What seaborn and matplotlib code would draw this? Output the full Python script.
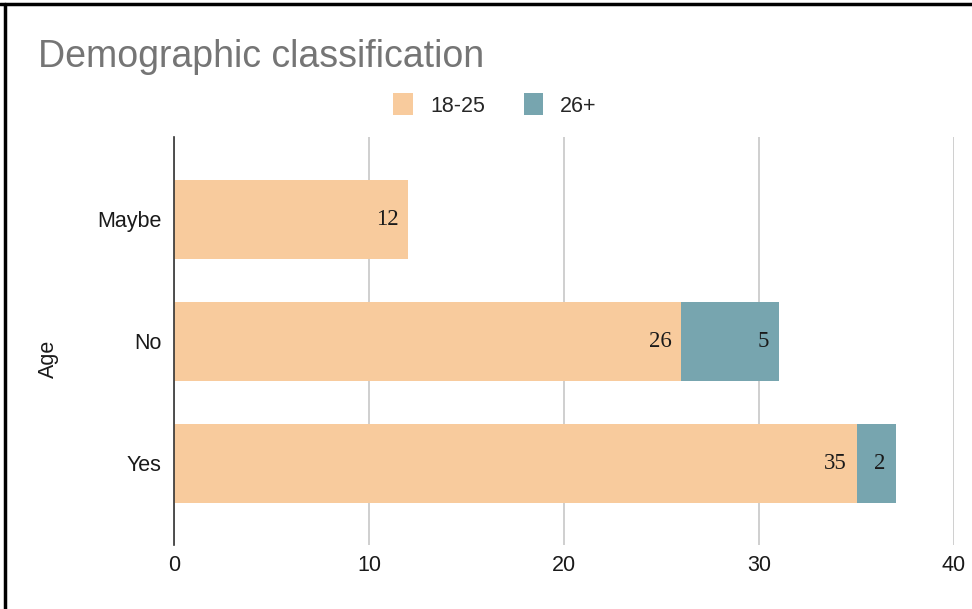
import numpy as np
import matplotlib
matplotlib.use("Agg")
import matplotlib.pyplot as plt
from matplotlib.patches import Patch
from matplotlib.lines import Line2D
import seaborn as sns

# data
categories = ['Maybe', 'No', 'Yes']
age_18_25 = [12, 26, 35]
age_26_plus = [0, 5, 2]
series_names = ['18-25', '26+']
x_ticks = [0, 10, 20, 30, 40]

PEACH = '#F8CB9D'
TEAL = '#77A5AF'

sns.set_theme(style='white')
plt.rcParams['font.family'] = ['Liberation Sans', 'DejaVu Sans']

fig = plt.figure(figsize=(9.72, 6.09), dpi=100)
ax = fig.add_axes([174 / 972, 64 / 609, 780 / 972, 408 / 609])

totals = [a + b for a, b in zip(age_18_25, age_26_plus)]
sns.barplot(x=totals, y=categories, color=TEAL, saturation=1, width=0.65,
            orient='h', ax=ax, zorder=3, linewidth=0, edgecolor='none')
sns.barplot(x=age_18_25, y=categories, color=PEACH, saturation=1, width=0.65,
            orient='h', ax=ax, zorder=3, linewidth=0, edgecolor='none')

# value labels, right aligned inside each segment
for i, cat in enumerate(categories):
    ends = [age_18_25[i], totals[i]]
    vals = [age_18_25[i], age_26_plus[i]]
    for end, v in zip(ends, vals):
        if v == 0:
            continue
        ax.annotate(str(v), xy=(end, i), xytext=(-7, 0), textcoords='offset points',
                    ha='right', va='center', fontsize=16.5, color='#1a1a1a',
                    family=['Liberation Serif', 'DejaVu Serif'], zorder=5)

ax.set_xlim(0, 40)
ax.set_ylim(2.67, -0.676)
ax.set_xticks(x_ticks)
ax.set_xticklabels([str(t) for t in x_ticks])
ax.grid(axis='x', color='#cccccc', linewidth=1.3, zorder=0)
ax.grid(axis='y', visible=False)
for side in ['top', 'right', 'bottom']:
    ax.spines[side].set_visible(False)
ax.spines['left'].set_color('#333333')
ax.spines['left'].set_linewidth(1.2)
ax.spines['left'].set_zorder(4)
ax.tick_params(axis='both', length=0, labelsize=15.5, colors='#1a1a1a')
ax.tick_params(axis='y', pad=9)
ax.tick_params(axis='x', pad=7)
ax.set_xlabel('')
ax.set_ylabel('')

fig.text(48 / 972, 1 - 359 / 609, 'Age', rotation=90, ha='center', va='center',
         fontsize=15.5, color='#1a1a1a')
fig.text(38 / 972, 1 - 67 / 609, 'Demographic classification', ha='left',
         va='baseline', fontsize=27, color='#757575')

handles = [Patch(facecolor=PEACH, edgecolor='none'), Patch(facecolor=TEAL, edgecolor='none')]
fig.legend(handles, series_names, loc='center', bbox_to_anchor=(495 / 972, 1 - 105 / 609),
           ncol=2, frameon=False, fontsize=15.5, handlelength=0.9, handleheight=1.2,
           handletextpad=0.8, columnspacing=1.8)

# screenshot border on top and left
fig.add_artist(Line2D([0, 1], [1 - 4 / 609, 1 - 4 / 609], color='black', linewidth=2.5,
                      transform=fig.transFigure))
fig.add_artist(Line2D([5 / 972, 5 / 972], [0, 1 - 4 / 609], color='black', linewidth=2.5,
                      transform=fig.transFigure))

fig.savefig('out.png', dpi=100)
